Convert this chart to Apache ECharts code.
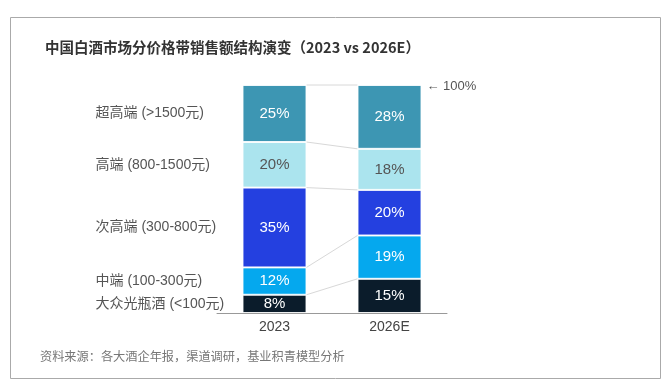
<!DOCTYPE html>
<html><head><meta charset="utf-8">
<script src="https://cdn.jsdelivr.net/npm/echarts@6/dist/echarts.min.js"></script>
<style>html,body{margin:0;padding:0;background:#fff}#c{width:662px;height:387px}</style>
</head><body><div id="c"></div>
<script>
const categories = ['2023', '2026E'];
const segmentNames = ['大众光瓶酒 (<100元)', '中端 (100-300元)', '次高端 (300-800元)', '高端 (800-1500元)', '超高端 (>1500元)'];
const values2023 = [8, 12, 35, 20, 25];
const values2026 = [15, 19, 20, 18, 28];
const colors = ['#0b1c2b', '#05a8ee', '#2440e0', '#abe4ee', '#3d96b3'];
const labelColors = ['#fff', '#fff', '#fff', '#555', '#fff'];
const titleText = '中国白酒市场分价格带销售额结构演变（2023 vs 2026E）';
const sourceText = '资料来源：各大酒企年报，渠道调研，基业积青模型分析';

const BAR_W = 64;
const chart = echarts.init(document.getElementById('c'), null, {renderer: 'canvas'});

const series = [];
segmentNames.forEach((name, i) => {
  series.push({
    name, type: 'bar', stack: 'main', barWidth: BAR_W, barGap: '-100%',
    data: [values2023[i], values2026[i]],
    itemStyle: {color: colors[i], borderColor: 'rgba(255,255,255,0.85)', borderWidth: 1},
    label: {show: true, position: 'inside', formatter: '{c}%', color: labelColors[i],
      fontSize: 15, fontFamily: 'Arial, Liberation Sans, sans-serif'},
    z: 3,
    markPoint: i === segmentNames.length - 1 ? {
      symbol: 'circle', symbolSize: 0, silent: true,
      data: [{coord: [1, 100], value: 100}],
      label: {show: true, position: 'right', offset: [BAR_W / 2, 1], formatter: '← 100%',
        color: '#555', fontSize: 13, fontFamily: 'Arial, Liberation Sans, sans-serif'}
    } : undefined
  });
});
// ghost series carrying the left-side category labels
segmentNames.forEach((name, i) => {
  series.push({
    name: name + '_lbl', type: 'bar', stack: 'ghost', barWidth: BAR_W,
    data: [values2023[i], '-'],
    itemStyle: {color: 'rgba(0,0,0,0)'}, silent: true,
    label: {show: true, position: 'insideLeft', distance: 0, offset: [-147, 0], formatter: name,
      color: '#555', fontSize: 14, fontFamily: 'Arial, "Noto Sans CJK SC", sans-serif'},
    z: 1
  });
});
// connector lines between cumulative boundaries
const cum2023 = [], cum2026 = [];
let a = 0, b = 0;
for (let i = 0; i < values2023.length; i++) {
  a += values2023[i]; b += values2026[i];
  cum2023.push(a); cum2026.push(b);
}
series.push({
  type: 'custom', silent: true, z: 2,
  data: cum2023.map((v, i) => [v, cum2026[i]]),
  renderItem: function (params, api) {
    const p1 = api.coord([0, api.value(0)]);
    const p2 = api.coord([1, api.value(1)]);
    return {type: 'line', shape: {x1: p1[0] + BAR_W / 2, y1: p1[1], x2: p2[0] - BAR_W / 2, y2: p2[1]},
      style: {stroke: '#d8d8d8', lineWidth: 1}};
  }
});

chart.setOption({
  animation: false,
  backgroundColor: '#fff',
  title: {text: titleText, left: 40, top: 35,
    textStyle: {fontSize: 14.5, fontWeight: 'bold', color: '#333', fontFamily: '"Noto Sans CJK SC", sans-serif'}},
  graphic: [
    {type: 'rect', shape: {x: 10.5, y: 17.5, width: 650, height: 361}, style: {fill: 'none', stroke: '#aaa', lineWidth: 1}, z: -1},
    {type: 'text', left: 40, top: 350, style: {text: sourceText, fill: '#777', fontSize: 12.2,
      fontFamily: '"Noto Sans CJK SC", sans-serif'}}
  ],
  grid: {left: 217, right: 215, top: 85, bottom: 74},
  xAxis: {type: 'category', data: categories,
    axisLine: {lineStyle: {color: '#999'}}, axisTick: {show: false},
    axisLabel: {color: '#444', fontSize: 14, margin: 7, fontFamily: 'Arial, Liberation Sans, sans-serif'}},
  yAxis: {type: 'value', min: 0, max: 100, show: false},
  series
});
</script></body></html>
